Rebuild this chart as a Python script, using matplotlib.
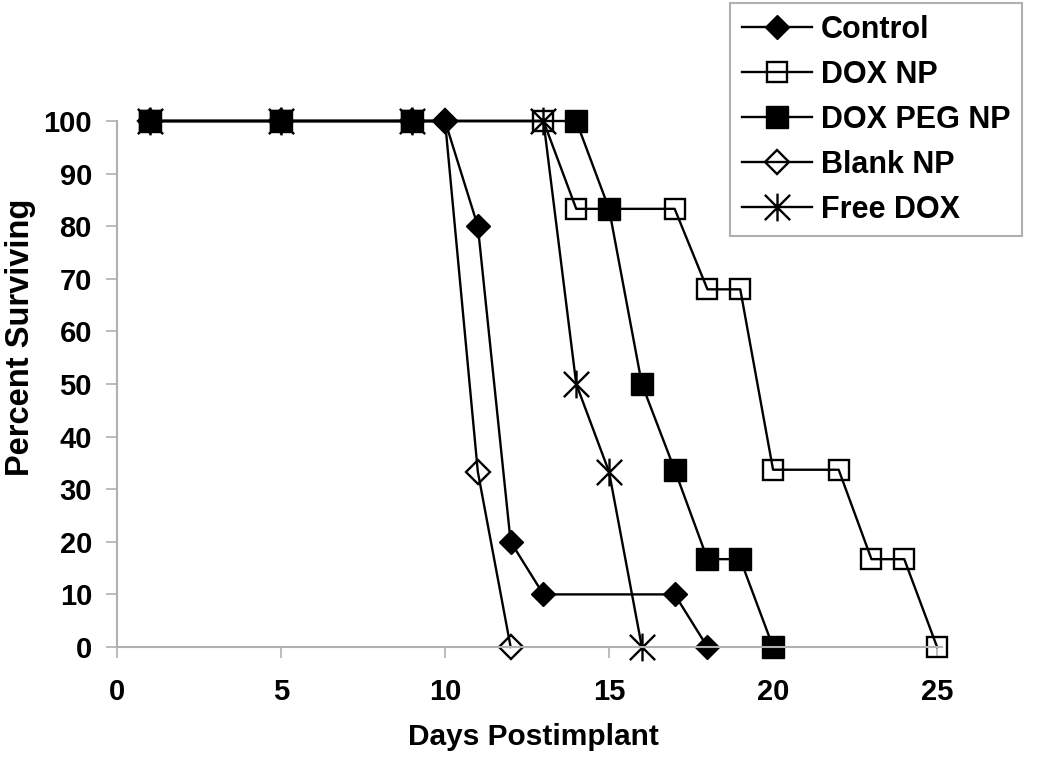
import numpy as np
import matplotlib.pyplot as plt
from matplotlib.path import Path

plt.rcParams['font.family'] = ['Liberation Sans', 'DejaVu Sans']
plt.rcParams['font.weight'] = 'bold'

# Datos de supervivencia
control_x = [1, 5, 9, 10, 11, 12, 13, 17, 18]
control_y = [100, 100, 100, 100, 80, 20, 10, 10, 0]

doxnp_x = [1, 5, 9, 13, 14, 17, 18, 19, 20, 22, 23, 24, 25]
doxnp_y = [100, 100, 100, 100, 83.3, 83.3, 68, 68, 33.7, 33.7, 16.7, 16.7, 0]

doxpeg_x = [1, 5, 9, 14, 15, 16, 17, 18, 19, 20]
doxpeg_y = [100, 100, 100, 100, 83.3, 50, 33.7, 16.7, 16.7, 0]

blank_x = [1, 5, 9, 10, 11, 12]
blank_y = [100, 100, 100, 100, 33.3, 0]

freedox_x = [1, 5, 9, 13, 14, 15, 16]
freedox_y = [100, 100, 100, 100, 50, 33.3, 0]

labels = ['Control', 'DOX NP', 'DOX PEG NP', 'Blank NP', 'Free DOX']
x_ticks = [0, 5, 10, 15, 20, 25]
y_ticks = [0, 10, 20, 30, 40, 50, 60, 70, 80, 90, 100]

# Marcador tipo asterisco de Excel (X con línea vertical)
asterisco = Path([(-1, -1), (1, 1), (-1, 1), (1, -1), (0, -1.1), (0, 1.1)],
                 [Path.MOVETO, Path.LINETO, Path.MOVETO, Path.LINETO, Path.MOVETO, Path.LINETO])

fig = plt.figure(figsize=(10.5, 7.72), dpi=100)
ax = fig.add_axes([117 / 1050, 1 - 647 / 772, (942 - 117) / 1050, (647 - 121) / 772])

lw = 1.7
ax.plot(control_x, control_y, 'k-', marker='D', ms=12.5, mfc='k', mec='k', lw=lw, clip_on=False, label=labels[0])
ax.plot(doxnp_x, doxnp_y, 'k-', marker='s', ms=15, mfc='none', mec='k', mew=1.7, lw=lw, clip_on=False, label=labels[1])
ax.plot(doxpeg_x, doxpeg_y, 'k-', marker='s', ms=16, mfc='k', mec='k', lw=lw, clip_on=False, label=labels[2])
ax.plot(blank_x, blank_y, 'k-', marker='D', ms=12.5, mfc='none', mec='k', mew=1.7, lw=lw, clip_on=False, label=labels[3])
ax.plot(freedox_x, freedox_y, 'k-', marker=asterisco, ms=20, mfc='none', mec='k', mew=1.7, lw=lw, clip_on=False, label=labels[4])

ax.set_xlim(0, 25.15)
ax.set_ylim(0, 100)
ax.set_xticks(x_ticks)
ax.set_yticks(y_ticks)

for lado in ['top', 'right']:
    ax.spines[lado].set_visible(False)
for lado in ['left', 'bottom']:
    ax.spines[lado].set_color('#b0b0b0')
    ax.spines[lado].set_linewidth(1.5)
ax.tick_params(axis='both', direction='out', length=8, width=1.2, color='#b0b0b0',
               labelsize=21)
ax.tick_params(axis='x', pad=14)
ax.tick_params(axis='y', pad=10)

ax.set_xlabel('Days Postimplant', fontsize=21.5, fontweight='bold')
ax.set_ylabel('Percent Surviving', fontsize=23.5, fontweight='bold')
ax.xaxis.set_label_coords(533 / 1050, 1 - 737 / 772, transform=fig.transFigure)
ax.yaxis.set_label_coords(21 / 1050, 1 - 337 / 772, transform=fig.transFigure)
ax.xaxis.label.set_va('center')
ax.yaxis.label.set_va('center')

leg = ax.legend(loc='upper left', bbox_to_anchor=(730 / 1050, 1 - 3 / 772),
                bbox_transform=fig.transFigure, fontsize=22, frameon=True,
                fancybox=False, edgecolor='#b0b0b0', framealpha=1,
                handlelength=2.3, handletextpad=0.3, labelspacing=0.49,
                borderpad=0.38, borderaxespad=0)
leg.get_frame().set_linewidth(1.5)

plt.savefig('out.png', dpi=100)
